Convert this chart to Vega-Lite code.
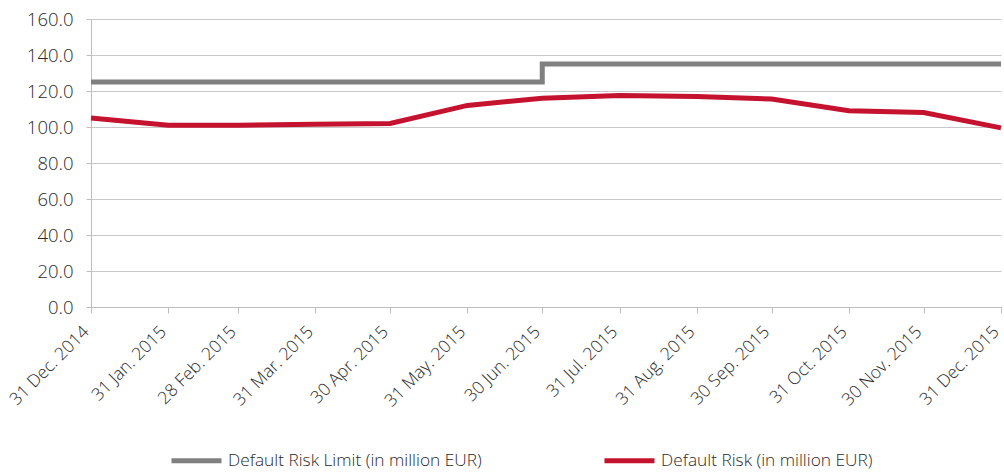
{
  "$schema": "https://vega.github.io/schema/vega-lite/v6.json",
  "width": 910,
  "height": 288,
  "autosize": {"type": "none"},
  "padding": {"left": 91, "top": 19, "right": 3, "bottom": 165},
  "background": "white",
  "config": {
    "view": {"stroke": null},
    "font": "Open Sans",
    "axis": {"labelFont": "Open Sans", "labelFontWeight": 300, "labelColor": "#2a2a2a", "domainColor": "#bdbdbd", "tickColor": "#bdbdbd", "gridColor": "#c8c8c8", "title": null}
  },
  "data": {
    "values": [
      {"date": "2014-12-31", "series": "Default Risk Limit (in million EUR)", "value": 125},
      {"date": "2015-01-31", "series": "Default Risk Limit (in million EUR)", "value": 125},
      {"date": "2015-02-28", "series": "Default Risk Limit (in million EUR)", "value": 125},
      {"date": "2015-03-31", "series": "Default Risk Limit (in million EUR)", "value": 125},
      {"date": "2015-04-30", "series": "Default Risk Limit (in million EUR)", "value": 125},
      {"date": "2015-05-31", "series": "Default Risk Limit (in million EUR)", "value": 125},
      {"date": "2015-06-30", "series": "Default Risk Limit (in million EUR)", "value": 135},
      {"date": "2015-07-31", "series": "Default Risk Limit (in million EUR)", "value": 135},
      {"date": "2015-08-31", "series": "Default Risk Limit (in million EUR)", "value": 135},
      {"date": "2015-09-30", "series": "Default Risk Limit (in million EUR)", "value": 135},
      {"date": "2015-10-31", "series": "Default Risk Limit (in million EUR)", "value": 135},
      {"date": "2015-11-30", "series": "Default Risk Limit (in million EUR)", "value": 135},
      {"date": "2015-12-31", "series": "Default Risk Limit (in million EUR)", "value": 135},
      {"date": "2014-12-31", "series": "Default Risk (in million EUR)", "value": 105},
      {"date": "2015-01-31", "series": "Default Risk (in million EUR)", "value": 101},
      {"date": "2015-02-28", "series": "Default Risk (in million EUR)", "value": 101},
      {"date": "2015-03-31", "series": "Default Risk (in million EUR)", "value": 101.5},
      {"date": "2015-04-30", "series": "Default Risk (in million EUR)", "value": 102},
      {"date": "2015-05-31", "series": "Default Risk (in million EUR)", "value": 112},
      {"date": "2015-06-30", "series": "Default Risk (in million EUR)", "value": 116},
      {"date": "2015-07-31", "series": "Default Risk (in million EUR)", "value": 117.5},
      {"date": "2015-08-31", "series": "Default Risk (in million EUR)", "value": 117},
      {"date": "2015-09-30", "series": "Default Risk (in million EUR)", "value": 115.5},
      {"date": "2015-10-31", "series": "Default Risk (in million EUR)", "value": 109},
      {"date": "2015-11-30", "series": "Default Risk (in million EUR)", "value": 108},
      {"date": "2015-12-31", "series": "Default Risk (in million EUR)", "value": 99.5}
    ]
  },
  "encoding": {
    "x": {
      "field": "date", "type": "temporal",
      "scale": {"type": "utc"},
      "axis": {
        "format": "%d %b. %Y",
        "labelAngle": -45, "labelAlign": "right", "labelBaseline": "middle",
        "labelFontSize": 17.5, "labelOverlap": false, "labelBound": false,
        "grid": false, "tickSize": 6, "labelPadding": 16, "labelOffset": -5,
        "values": [
          {"year": 2014, "month": 12, "date": 31, "utc": true},
          {"year": 2015, "month": 1, "date": 31, "utc": true},
          {"year": 2015, "month": 2, "date": 28, "utc": true},
          {"year": 2015, "month": 3, "date": 31, "utc": true},
          {"year": 2015, "month": 4, "date": 30, "utc": true},
          {"year": 2015, "month": 5, "date": 31, "utc": true},
          {"year": 2015, "month": 6, "date": 30, "utc": true},
          {"year": 2015, "month": 7, "date": 31, "utc": true},
          {"year": 2015, "month": 8, "date": 31, "utc": true},
          {"year": 2015, "month": 9, "date": 30, "utc": true},
          {"year": 2015, "month": 10, "date": 31, "utc": true},
          {"year": 2015, "month": 11, "date": 30, "utc": true},
          {"year": 2015, "month": 12, "date": 31, "utc": true}
        ]
      }
    },
    "y": {
      "field": "value", "type": "quantitative",
      "scale": {"domain": [0, 160], "nice": false},
      "axis": {"format": ".1f", "values": [0, 20, 40, 60, 80, 100, 120, 140, 160], "labelFontSize": 18.5, "tickSize": 5, "labelPadding": 13, "domain": true}
    },
    "color": {
      "field": "series", "type": "nominal",
      "scale": {"domain": ["Default Risk Limit (in million EUR)", "Default Risk (in million EUR)"], "range": ["#808080", "#C4122F"]},
      "legend": {
        "title": null, "orient": "none", "legendX": 78, "legendY": 414,
        "direction": "horizontal", "columns": 2, "columnPadding": 112,
        "symbolType": "stroke", "symbolSize": 2500, "symbolStrokeWidth": 5,
        "labelFontSize": 17.3, "labelFont": "Open Sans", "labelFontWeight": 300, "labelColor": "#2a2a2a", "labelLimit": 400, "symbolOffset": 0, "labelOffset": 4
      }
    }
  },
  "layer": [
    {
      "transform": [{"filter": "datum.series === 'Default Risk Limit (in million EUR)'"}],
      "mark": {"type": "line", "interpolate": "step-after", "strokeWidth": 5}
    },
    {
      "transform": [{"filter": "datum.series === 'Default Risk (in million EUR)'"}],
      "mark": {"type": "line", "strokeWidth": 5}
    }
  ]
}
